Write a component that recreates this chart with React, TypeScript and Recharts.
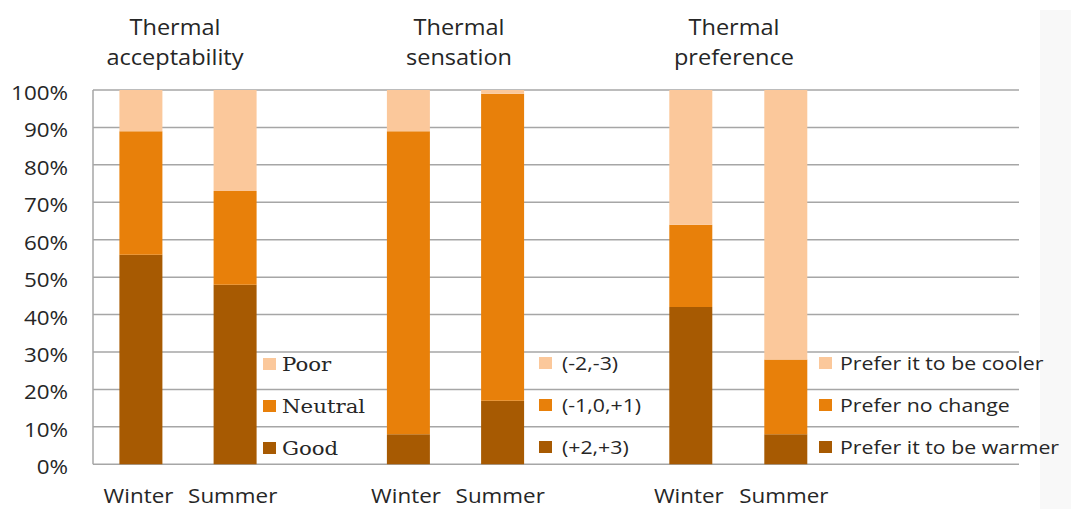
import React from "react";
import { BarChart, Bar, XAxis, YAxis, CartesianGrid, Legend } from "recharts";

// categories
const seasons = ["Winter", "Summer"];

// Thermal acceptability (%)
const acceptGood = [56, 48];
const acceptNeutral = [33, 25];
const acceptPoor = [11, 27];
const acceptLabels = ["Good", "Neutral", "Poor"];

// Thermal sensation (%)
const sensWarm = [8, 17];
const sensNeutral = [81, 82];
const sensCold = [11, 1];
const sensLabels = ["(+2,+3)", "(-1,0,+1)", "(-2,-3)"];

// Thermal preference (%)
const prefWarmer = [42, 8];
const prefNoChange = [22, 20];
const prefCooler = [36, 72];
const prefLabels = ["Prefer it to be warmer", "Prefer no change", "Prefer it to be cooler"];

const yTicks = [0, 10, 20, 30, 40, 50, 60, 70, 80, 90, 100];

const DARK = "#a75a02";
const MID = "#e8800a";
const LIGHT = "#fbc89b";
const TEXT = "#262626";
const GRID = "#a6a6a6";
const FONT = "'Open Sans', sans-serif";
const SERIF = "'DejaVu Serif', serif";
const SX = 1.12; // the reference text is a little stretched sideways

const toRows = (a: number[], b: number[], c: number[]) =>
  seasons.map((s, i) => ({ season: s, low: a[i], mid: b[i], high: c[i] }));

const YTick = (props: any) => {
  const { y, payload } = props;
  return (
    <text
      transform={`translate(68, ${y + 10}) scale(${SX},1)`}
      textAnchor="end"
      fontFamily={FONT}
      fontSize={20}
      fill={TEXT}
    >
      {payload.value}%
    </text>
  );
};

const XTick = (props: any) => {
  const { x, payload } = props;
  return (
    <text
      transform={`translate(${x - 2}, 503) scale(${SX},1)`}
      textAnchor="middle"
      fontFamily={FONT}
      fontSize={20}
      fill={TEXT}
    >
      {payload.value}
    </text>
  );
};

// legend lists the top of the stack first, like the original
const makeLegend = (labels: string[], font: string, gap: number) => (props: any) => {
  const items = [...(props.payload || [])].sort(
    (a: any, b: any) => labels.indexOf(b.value) - labels.indexOf(a.value)
  );
  return (
    <div>
      {items.map((it: any) => (
        <div key={it.value} style={{ display: "flex", alignItems: "center", height: 42 }}>
          <span style={{ width: 13, height: 12, background: it.color, marginRight: gap, flex: "none" }} />
          <span
            style={{
              fontFamily: font,
              fontSize: 19,
              color: TEXT,
              whiteSpace: "nowrap",
              display: "inline-block",
              transform: `scaleX(${SX})`,
              transformOrigin: "left center",
            }}
          >
            {it.value}
          </span>
        </div>
      ))}
    </div>
  );
};

type PanelProps = {
  left: number;
  width: number;
  rows: any[];
  labels: string[];
  showAxis: boolean;
  pad: { left: number; right: number };
  legendLeft: number;
  legendTop: number;
  legendFont: string;
  legendGap: number;
};

const Panel = ({ left, width, rows, labels, showAxis, pad, legendLeft, legendTop, legendFont, legendGap }: PanelProps) => (
  <div style={{ position: "absolute", left, top: 0 }}>
    <BarChart width={width} height={509} data={rows} margin={{ top: 90, right: 0, bottom: 0, left: 0 }}>
      <CartesianGrid vertical={false} stroke={GRID} strokeWidth={1.5} />
      <XAxis
        dataKey="season"
        height={44.7}
        axisLine={false}
        tickLine={false}
        interval={0}
        padding={pad}
        tick={<XTick />}
      />
      <YAxis
        domain={[0, 100]}
        ticks={yTicks}
        hide={!showAxis}
        width={93}
        axisLine={{ stroke: GRID, strokeWidth: 1.5 }}
        tickLine={false}
        tick={<YTick />}
      />
      <Legend
        layout="vertical"
        align="center"
        verticalAlign="middle"
        wrapperStyle={{ left: legendLeft, top: legendTop, width: "auto" }}
        content={makeLegend(labels, legendFont, legendGap)}
      />
      <Bar dataKey="low" name={labels[0]} stackId="a" fill={DARK} barSize={43} isAnimationActive={false} />
      <Bar dataKey="mid" name={labels[1]} stackId="a" fill={MID} barSize={43} isAnimationActive={false} />
      <Bar dataKey="high" name={labels[2]} stackId="a" fill={LIGHT} barSize={43} isAnimationActive={false} />
    </BarChart>
  </div>
);

const Title = ({ cx, lines }: { cx: number; lines: string[] }) => (
  <div
    style={{
      position: "absolute",
      left: cx - 150,
      width: 300,
      top: 12,
      textAlign: "center",
      fontFamily: FONT,
      fontSize: 21,
      lineHeight: "30px",
      color: TEXT,
      transform: `scaleX(${SX})`,
    }}
  >
    {lines[0]}
    <br />
    {lines[1]}
  </div>
);

export default function App() {
  return (
    <div style={{ position: "absolute", left: 0, top: 0, width: 1071, height: 509, background: "#fff", overflow: "hidden" }}>
      <div style={{ position: "absolute", left: 1040, top: 10, width: 31, height: 499, background: "#f8f8f8" }} />
      <Panel
        left={0}
        width={360}
        rows={toRows(acceptGood, acceptNeutral, acceptPoor)}
        labels={acceptLabels}
        showAxis
        pad={{ left: 0.4, right: 78.2 }}
        legendLeft={263}
        legendTop={343}
        legendFont={SERIF}
        legendGap={6}
      />
      <Panel
        left={360}
        width={280}
        rows={toRows(sensWarm, sensNeutral, sensCold)}
        labels={sensLabels}
        showAxis={false}
        pad={{ left: 0.9, right: 90.7 }}
        legendLeft={179}
        legendTop={342}
        legendFont={FONT}
        legendGap={10}
      />
      <Panel
        left={640}
        width={379}
        rows={toRows(prefWarmer, prefNoChange, prefCooler)}
        labels={prefLabels}
        showAxis={false}
        pad={{ left: 3.3, right: 185.7 }}
        legendLeft={179}
        legendTop={342}
        legendFont={FONT}
        legendGap={8}
      />
      <Title cx={175} lines={["Thermal", "acceptability"]} />
      <Title cx={459} lines={["Thermal", "sensation"]} />
      <Title cx={734} lines={["Thermal", "preference"]} />
    </div>
  );
}
